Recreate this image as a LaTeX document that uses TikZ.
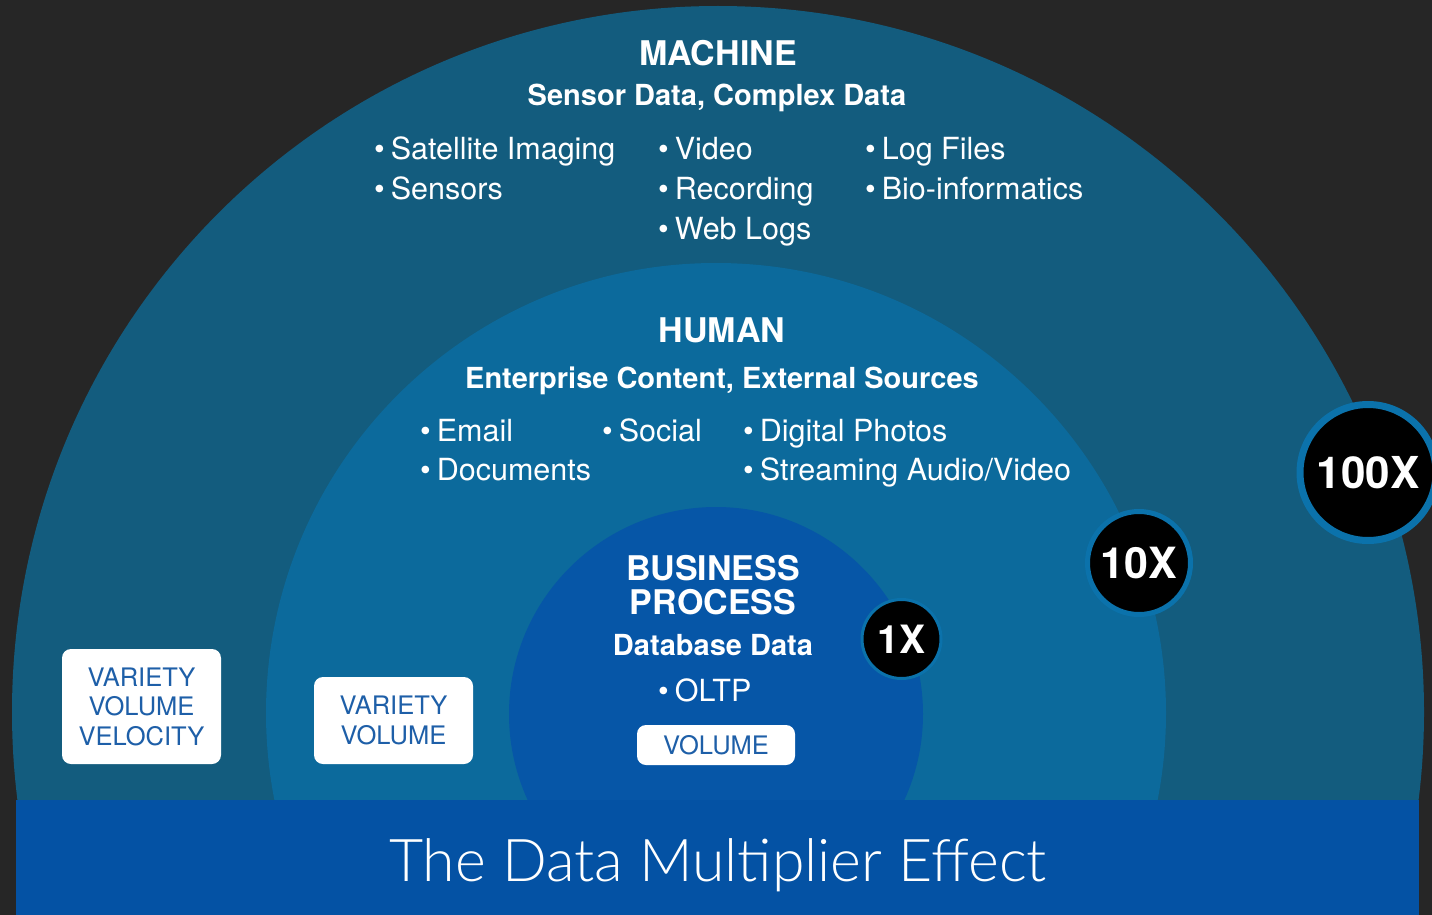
\documentclass[tikz,border=0pt]{standalone}
\usepackage{fontspec}
\setmainfont{TeX Gyre Heros}
\newfontfamily\thinfont{Lato Light}
\definecolor{bgdark}{HTML}{262626}
\definecolor{ringout}{HTML}{135C7E}
\definecolor{ringmid}{HTML}{0C6A9C}
\definecolor{ringin}{HTML}{0656A7}
\definecolor{bandblue}{HTML}{0452A4}
\definecolor{edgeblue}{HTML}{0B72AB}
\definecolor{tagblue}{HTML}{1E5FA8}
\newcommand\fsz[2]{\fontsize{#1}{#2}\selectfont}

\begin{document}
\begin{tikzpicture}[x=1pt,y=-1pt,
  head/.style={anchor=base,text=white,inner sep=0pt,font=\bfseries\fsz{34}{35}},
  sub/.style={anchor=base,text=white,inner sep=0pt,font=\bfseries\fsz{29}{30}},
  item/.style={anchor=base west,text=white,inner sep=0pt,font=\fsz{30.5}{39}},
  tag/.style={fill=white,rounded corners=9pt,text=tagblue,align=center,
    inner sep=0pt,font=\fsz{25.5}{29.5}},
  badge/.style={circle,fill=black,draw=edgeblue,text=white,inner sep=0pt}
]
\useasboundingbox (0,0) rectangle (1432,915);
\fill[bgdark] (0,0) rectangle (1432,915);

\fill[ringout] (718,712) circle [radius=706pt];
\fill[ringmid] (716,713) circle [radius=450pt];
\fill[ringin] (716,714) circle [radius=207pt];
\fill[bandblue] (16,800) rectangle (1419,915);

\node[head] (machine) at (718,66) {MACHINE};
\node[sub] (msub) at (717,106) {Sensor Data, Complex Data};
\node[item] (m1) at (374,160) {\textbullet\hspace{6pt}Satellite Imaging};
\node[item] (m2) at (374,199.5) {\textbullet\hspace{6pt}Sensors};
\node[item] (m3) at (658,160) {\textbullet\hspace{6pt}Video};
\node[item] (m4) at (658,199.5) {\textbullet\hspace{6pt}Recording};
\node[item] (m5) at (658,239) {\textbullet\hspace{6pt}Web Logs};
\node[item] (m6) at (865,160) {\textbullet\hspace{6pt}Log Files};
\node[item] (m7) at (865,199.5) {\textbullet\hspace{6pt}Bio-informatics};

\node[head] (human) at (722,342) {HUMAN};
\node[sub] (hsub) at (722,388) {Enterprise Content, External Sources};
\node[item] (h1) at (420,441) {\textbullet\hspace{6pt}Email};
\node[item] (h2) at (420,480) {\textbullet\hspace{6pt}Documents};
\node[item] (h3) at (602,441) {\textbullet\hspace{6pt}Social};
\node[item] (h4) at (743,441) {\textbullet\hspace{6pt}Digital Photos};
\node[item] (h5) at (743,480) {\textbullet\hspace{6pt}Streaming Audio/Video};

\node[head] (bus) at (713,580) {BUSINESS};
\node[head] (proc) at (713,614.5) {PROCESS};
\node[sub] (bsub) at (713,655) {Database Data};
\node[item] (b1) at (658,701) {\textbullet\hspace{6pt}OLTP};

\node[tag,minimum width=159pt,minimum height=115pt] (tag3) at (141.5,706.5)
  {VARIETY\\VOLUME\\VELOCITY};
\node[tag,minimum width=159pt,minimum height=87pt] (tag2) at (393.5,720.5)
  {VARIETY\\VOLUME};
\node[tag,minimum width=158pt,minimum height=40pt] (tag1) at (716,745)
  {VOLUME};

\node[badge,line width=7pt,minimum size=136pt,font=\bfseries\fsz{44}{44}]
  (x100) at (1368,472.5) {100X};
\node[badge,line width=5pt,minimum size=103pt,font=\bfseries\fsz{43}{43}]
  (x10) at (1139,563) {10X};
\node[badge,line width=3pt,minimum size=79pt,font=\bfseries\fsz{39}{39}]
  (x1) at (901.5,639) {1X};

\node[anchor=base,text=white,inner sep=0pt,font=\thinfont\fsz{59}{59}]
  (title) at (718,881) {The Data Multiplier Effect};
\end{tikzpicture}
\end{document}
